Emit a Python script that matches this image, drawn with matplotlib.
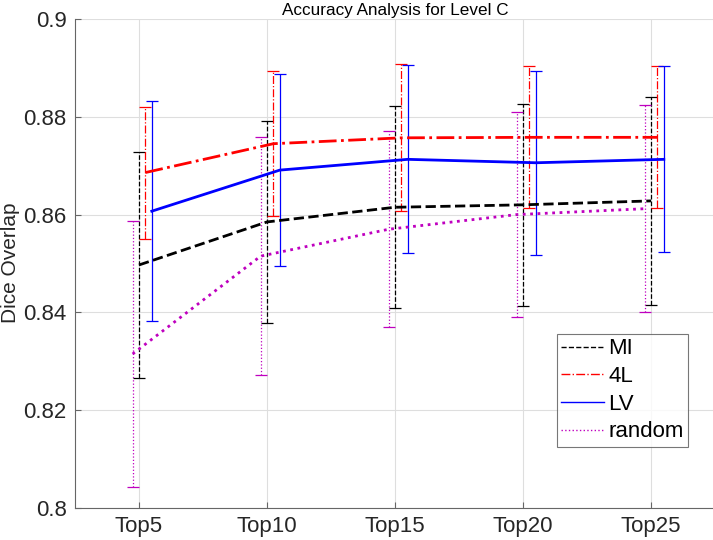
import matplotlib
matplotlib.use("Agg")
import matplotlib.pyplot as plt
from matplotlib.lines import Line2D
import numpy as np

plt.rcParams['font.family'] = ['Liberation Sans', 'DejaVu Sans']

categories = ["Top5", "Top10", "Top15", "Top20", "Top25"]
series_names = ["MI", "4L", "LV", "random"]
mi_mean = [0.8497, 0.8585, 0.8615, 0.8620, 0.8628]
mi_err = [0.0232, 0.0207, 0.0207, 0.0207, 0.0212]
l4_mean = [0.8686, 0.8745, 0.8757, 0.8758, 0.8758]
l4_err = [0.0135, 0.0148, 0.0150, 0.0145, 0.0145]
lv_mean = [0.8607, 0.8691, 0.8713, 0.8706, 0.8713]
lv_err = [0.0225, 0.0196, 0.0192, 0.0188, 0.0190]
rnd_mean = [0.8315, 0.8515, 0.8570, 0.8600, 0.8612]
rnd_err = [0.0272, 0.0243, 0.0200, 0.0210, 0.0212]
y_ticks = [0.8, 0.82, 0.84, 0.86, 0.88, 0.9]

fig = plt.figure(figsize=(7.13, 5.40), dpi=100)
ax = fig.add_axes([75/713, 32/540, 640/713, 489/540])

x = np.arange(1, len(categories) + 1)
specs = [
    (mi_mean, mi_err, 0.0, 'k', '--'),
    (l4_mean, l4_err, 0.05, 'r', '-.'),
    (lv_mean, lv_err, 0.10, 'b', '-'),
    (rnd_mean, rnd_err, -0.05, 'm', ':'),
]
handles = []
for (m, e, off, c, ls), name in zip(specs, series_names):
    cont = ax.errorbar(x + off, m, yerr=e, color=c, linestyle=ls, linewidth=2.0,
                       elinewidth=0.9, capsize=4, capthick=0.9, zorder=3)
    for lc in cont[2]:
        lc.set_linestyle(ls)
    handles.append(Line2D([0], [0], color=c, linestyle=ls, linewidth=1.0, label=name))

ax.set_xlim(0.5, 5.5)
ax.set_ylim(0.8, 0.9)
ax.set_xticks(x)
ax.set_xticklabels(categories)
ax.set_yticks(y_ticks)
ax.set_yticklabels(["0.8", "0.82", "0.84", "0.86", "0.88", "0.9"])
ax.grid(True, color='#dedede', linewidth=0.8)
ax.set_axisbelow(True)
for s in ['top', 'right']:
    ax.spines[s].set_visible(False)
for s in ['left', 'bottom']:
    ax.spines[s].set_color('#666666')
    ax.spines[s].set_linewidth(0.8)
ax.tick_params(direction='in', length=4, color='#666666', labelsize=16, labelcolor='#262626', pad=6)
fig.text(11/713, 1 - 263/540, "Dice Overlap", fontsize=15, color='#262626',
         rotation=90, ha='center', va='center')
ax.set_title("Accuracy Analysis for Level C", fontsize=12.3, color='#000000', pad=3)

leg = ax.legend(handles=handles, loc='upper left', bbox_to_anchor=((557-75)/640, (508-334)/489),
                fontsize=16, frameon=True, fancybox=False, handlelength=1.9, handletextpad=0.2,
                borderpad=0.2, labelspacing=0.3, borderaxespad=0)
leg.get_frame().set_edgecolor('#555555')
leg.get_frame().set_linewidth(0.8)

fig.savefig("out.png", dpi=100)
